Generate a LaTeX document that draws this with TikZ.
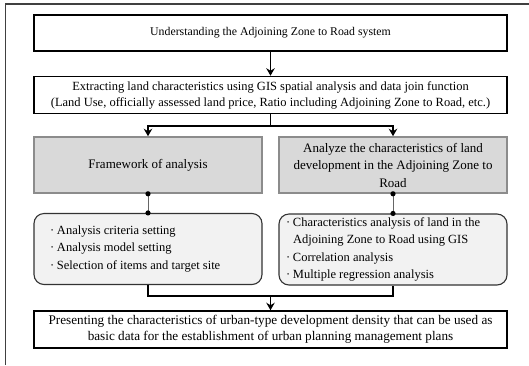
\documentclass[tikz,border=0pt]{standalone}
\usepackage{fontspec}
\setmainfont{Liberation Serif}
\usetikzlibrary{arrows.meta}
\begin{document}
\begin{tikzpicture}[x=1pt,y=-1pt,
  whitebox/.style={draw=black,line width=1.6pt,fill=white,minimum width=473pt,align=center,inner sep=0pt},
  graybox/.style={font=\fontsize{13}{17.5}\selectfont,draw=black!45,line width=1.6pt,fill=black!15,minimum width=228pt,minimum height=56pt,align=center,inner sep=0pt},
  roundbox/.style={font=\fontsize{12.5}{17.6}\selectfont,draw=black!80,line width=1.1pt,fill=black!5,rounded corners=10pt,minimum width=228pt,minimum height=71pt,inner sep=0pt},
  conn/.style={line width=1.7pt},
  arr/.style={conn,-{Stealth[length=7.5pt,width=8.5pt,inset=2.5pt]}},
  thin/.style={line width=0.6pt,draw=black!60},
  dot/.style={fill=black}
]
\useasboundingbox (0,0) rectangle (529,365);
\draw[line width=1.3pt,draw=black!75] (5.5,365) -- (5.5,4) -- (529,4);

\node[whitebox,minimum height=36pt,font=\fontsize{11.8}{16}\selectfont] (b1) at (270.5,33) {Understanding the Adjoining Zone to Road system};
\node[whitebox,minimum height=37pt,font=\fontsize{12.5}{16}\selectfont] (b2) at (270.5,95) {Extracting land characteristics using GIS spatial analysis and data join function\\(Land Use, officially assessed land price, Ratio including Adjoining Zone to Road, etc.)};
\node[graybox] (gl) at (148,165) {Framework of analysis};
\node[graybox] (gr) at (393,165) {Analyze the characteristics of land\\development in the Adjoining Zone to\\Road};
\node[roundbox] (rl) at (148,249) {\parbox{196pt}{\raggedright
\makebox[7pt][l]{·}Analysis criteria setting\\
\makebox[7pt][l]{·}Analysis model setting\\
\makebox[7pt][l]{·}Selection of items and target site}};
\node[roundbox] (rr) at (393,249.5) {\parbox{214pt}{\raggedright
\makebox[7pt][l]{·}Characteristics analysis of land in the\\
\hspace*{7pt}Adjoining Zone to Road using GIS\\
\makebox[7pt][l]{·}Correlation analysis\\
\makebox[7pt][l]{·}Multiple regression analysis}};
\node[whitebox,minimum height=37pt,font=\fontsize{13.2}{16.5}\selectfont] (b3) at (270.5,329.5) {Presenting the characteristics of urban-type development density that can be used as\\basic data for the establishment of urban planning management plans};

\coordinate (j1) at (270.5,126);
\coordinate (j2) at (270.5,296);

\draw[arr] (b1) -- (b2);
\draw[conn] (b2) -- (j1);
\draw[arr] (j1) -| (gl.north);
\draw[arr] (j1) -| (gr.north);

\draw[thin] (gl.south) -- (rl.north);
\draw[thin] (gr.south) -- (rr.north);
\fill[dot] (gl.south) circle (2.6);
\fill[dot] (rl.north) circle (2.6);
\fill[dot] (gr.south) circle (2.6);
\fill[dot] (rr.north) circle (2.6);

\draw[conn] (rl.south) |- (j2) -| (rr.south);
\draw[arr] (j2) -- (b3);
\end{tikzpicture}
\end{document}
